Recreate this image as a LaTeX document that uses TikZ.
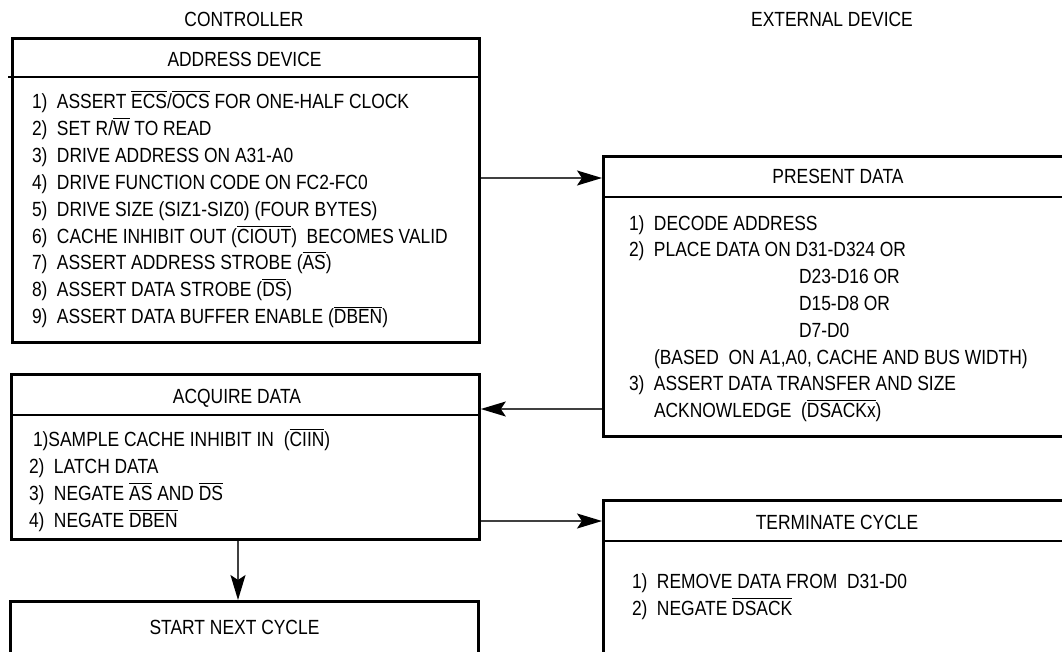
\documentclass[tikz,border=0pt]{standalone}
\usepackage{fontspec}
\setmainfont{Liberation Sans}[FakeStretch=0.85]
\usetikzlibrary{arrows.meta}
\newcommand\ovl[1]{\leavevmode\vbox{\hrule height 0.9pt\kern 2.2pt\hbox{#1}}}
\newcommand\nm[1]{\makebox[25pt][l]{#1}}
\begin{document}
\begin{tikzpicture}[x=1pt,y=-1pt,
 every node/.style={font=\fontsize{20.5}{27}\selectfont, inner sep=0pt, outer sep=0pt},
 box/.style={draw=black, line width=2.8pt, inner sep=0pt, outer sep=1.4pt, anchor=north west},
 sep/.style={line width=1.5pt},
 arr/.style={line width=1.7pt, draw=black!75, -{Stealth[length=25pt,width=15pt,inset=5pt,color=black]}},
 txt/.style={anchor=base west},
 ttl/.style={anchor=base}]
\clip (0,0) rectangle (1062,651);
\fill[white] (0,0) rectangle (1062,651);
% headers
\node[ttl] (hctl) at (244,26.3) {CONTROLLER};
\node[ttl] (hext) at (832,26.3) {EXTERNAL DEVICE};
% boxes
\node[box, minimum width=467pt, minimum height=304pt] (addr) at (11,37) {};
\node[box, minimum width=500pt, minimum height=280pt] (pres) at (602,155) {};
\node[box, minimum width=468pt, minimum height=165pt] (acq) at (10,373) {};
\node[box, minimum width=468pt, minimum height=120pt] (start) at (9,600) {};
\node[box, minimum width=500pt, minimum height=200pt] (term) at (602,499) {};
% dividers
\draw[sep] (8,77) -- (addr.east |- 0,77);
\draw[sep] (pres.west |- 0,197) -- (1070,197);
\draw[sep] (acq.west |- 0,415) -- (acq.east |- 0,415);
\draw[sep] (term.west |- 0,541) -- (1070,541);
% titles
\node[ttl] (atitle) at (244.5,66.8) {ADDRESS DEVICE};
\node[ttl] (ptitle) at (838,183.8) {PRESENT DATA};
\node[ttl] (qtitle) at (237,403.5) {ACQUIRE DATA};
\node[ttl] (stitle) at (234.5,634.8) {START NEXT CYCLE};
\node[ttl] (ttitle) at (837,529.5) {TERMINATE CYCLE};
% address items
\node[txt] (a1) at (32,108.5) {\nm{1)}ASSERT \ovl{ECS}/\ovl{OCS} FOR ONE-HALF CLOCK};
\node[txt] (a2) at (32,135.4) {\nm{2)}SET R/\ovl{W} TO READ};
\node[txt] (a3) at (32,162.3) {\nm{3)}DRIVE ADDRESS ON A31-A0};
\node[txt] (a4) at (32,189.2) {\nm{4)}DRIVE FUNCTION CODE ON FC2-FC0};
\node[txt] (a5) at (32,216.1) {\nm{5)}DRIVE SIZE (SIZ1-SIZ0) (FOUR BYTES)};
\node[txt] (a6) at (32,243.0) {\nm{6)}CACHE INHIBIT OUT (\ovl{CIOUT})~ BECOMES VALID};
\node[txt] (a7) at (32,269.9) {\nm{7)}ASSERT ADDRESS STROBE (\ovl{AS})};
\node[txt] (a8) at (32,296.8) {\nm{8)}ASSERT DATA STROBE (\ovl{DS})};
\node[txt] (a9) at (32,323.7) {\nm{9)}ASSERT DATA BUFFER ENABLE (\ovl{DBEN})};
% present items
\node[txt] (p1) at (629,230.0) {\nm{1)}DECODE ADDRESS};
\node[txt] (p2) at (629,256.8) {\nm{2)}PLACE DATA ON D31-D324 OR};
\node[txt] (p3) at (799,283.6) {D23-D16 OR};
\node[txt] (p4) at (799,310.4) {D15-D8 OR};
\node[txt] (p5) at (799,337.2) {D7-D0};
\node[txt] (p6) at (654,364.0) {(BASED~ ON A1,A0, CACHE AND BUS WIDTH)};
\node[txt] (p7) at (629,390.8) {\nm{3)}ASSERT DATA TRANSFER AND SIZE};
\node[txt] (p8) at (654,417.6) {ACKNOWLEDGE~ (\ovl{DSACKx})};
% acquire items
\node[txt] (q1) at (33,446.8) {1)SAMPLE CACHE INHIBIT IN~ (\ovl{CIIN})};
\node[txt] (q2) at (29,473.8) {\nm{2)}LATCH DATA};
\node[txt] (q3) at (29,500.6) {\nm{3)}NEGATE \ovl{AS} AND \ovl{DS}};
\node[txt] (q4) at (29,527.4) {\nm{4)}NEGATE \ovl{DBEN}};
% terminate items
\node[txt] (t1) at (632,588.5) {\nm{1)}REMOVE DATA FROM~ D31-D0};
\node[txt] (t2) at (632,615.1) {\nm{2)}NEGATE \ovl{DSACK}};
% connectors
\coordinate (dx) at (238,0);
\draw[arr] (addr.east |- 0,178) -- (pres.west |- 0,178);
\draw[arr] (pres.west |- 0,409) -- (acq.east |- 0,409);
\draw[arr] (acq.east |- 0,521) -- (term.west |- 0,521);
\draw[arr] (acq.south -| dx) -- (start.north -| dx);
\end{tikzpicture}
\end{document}
